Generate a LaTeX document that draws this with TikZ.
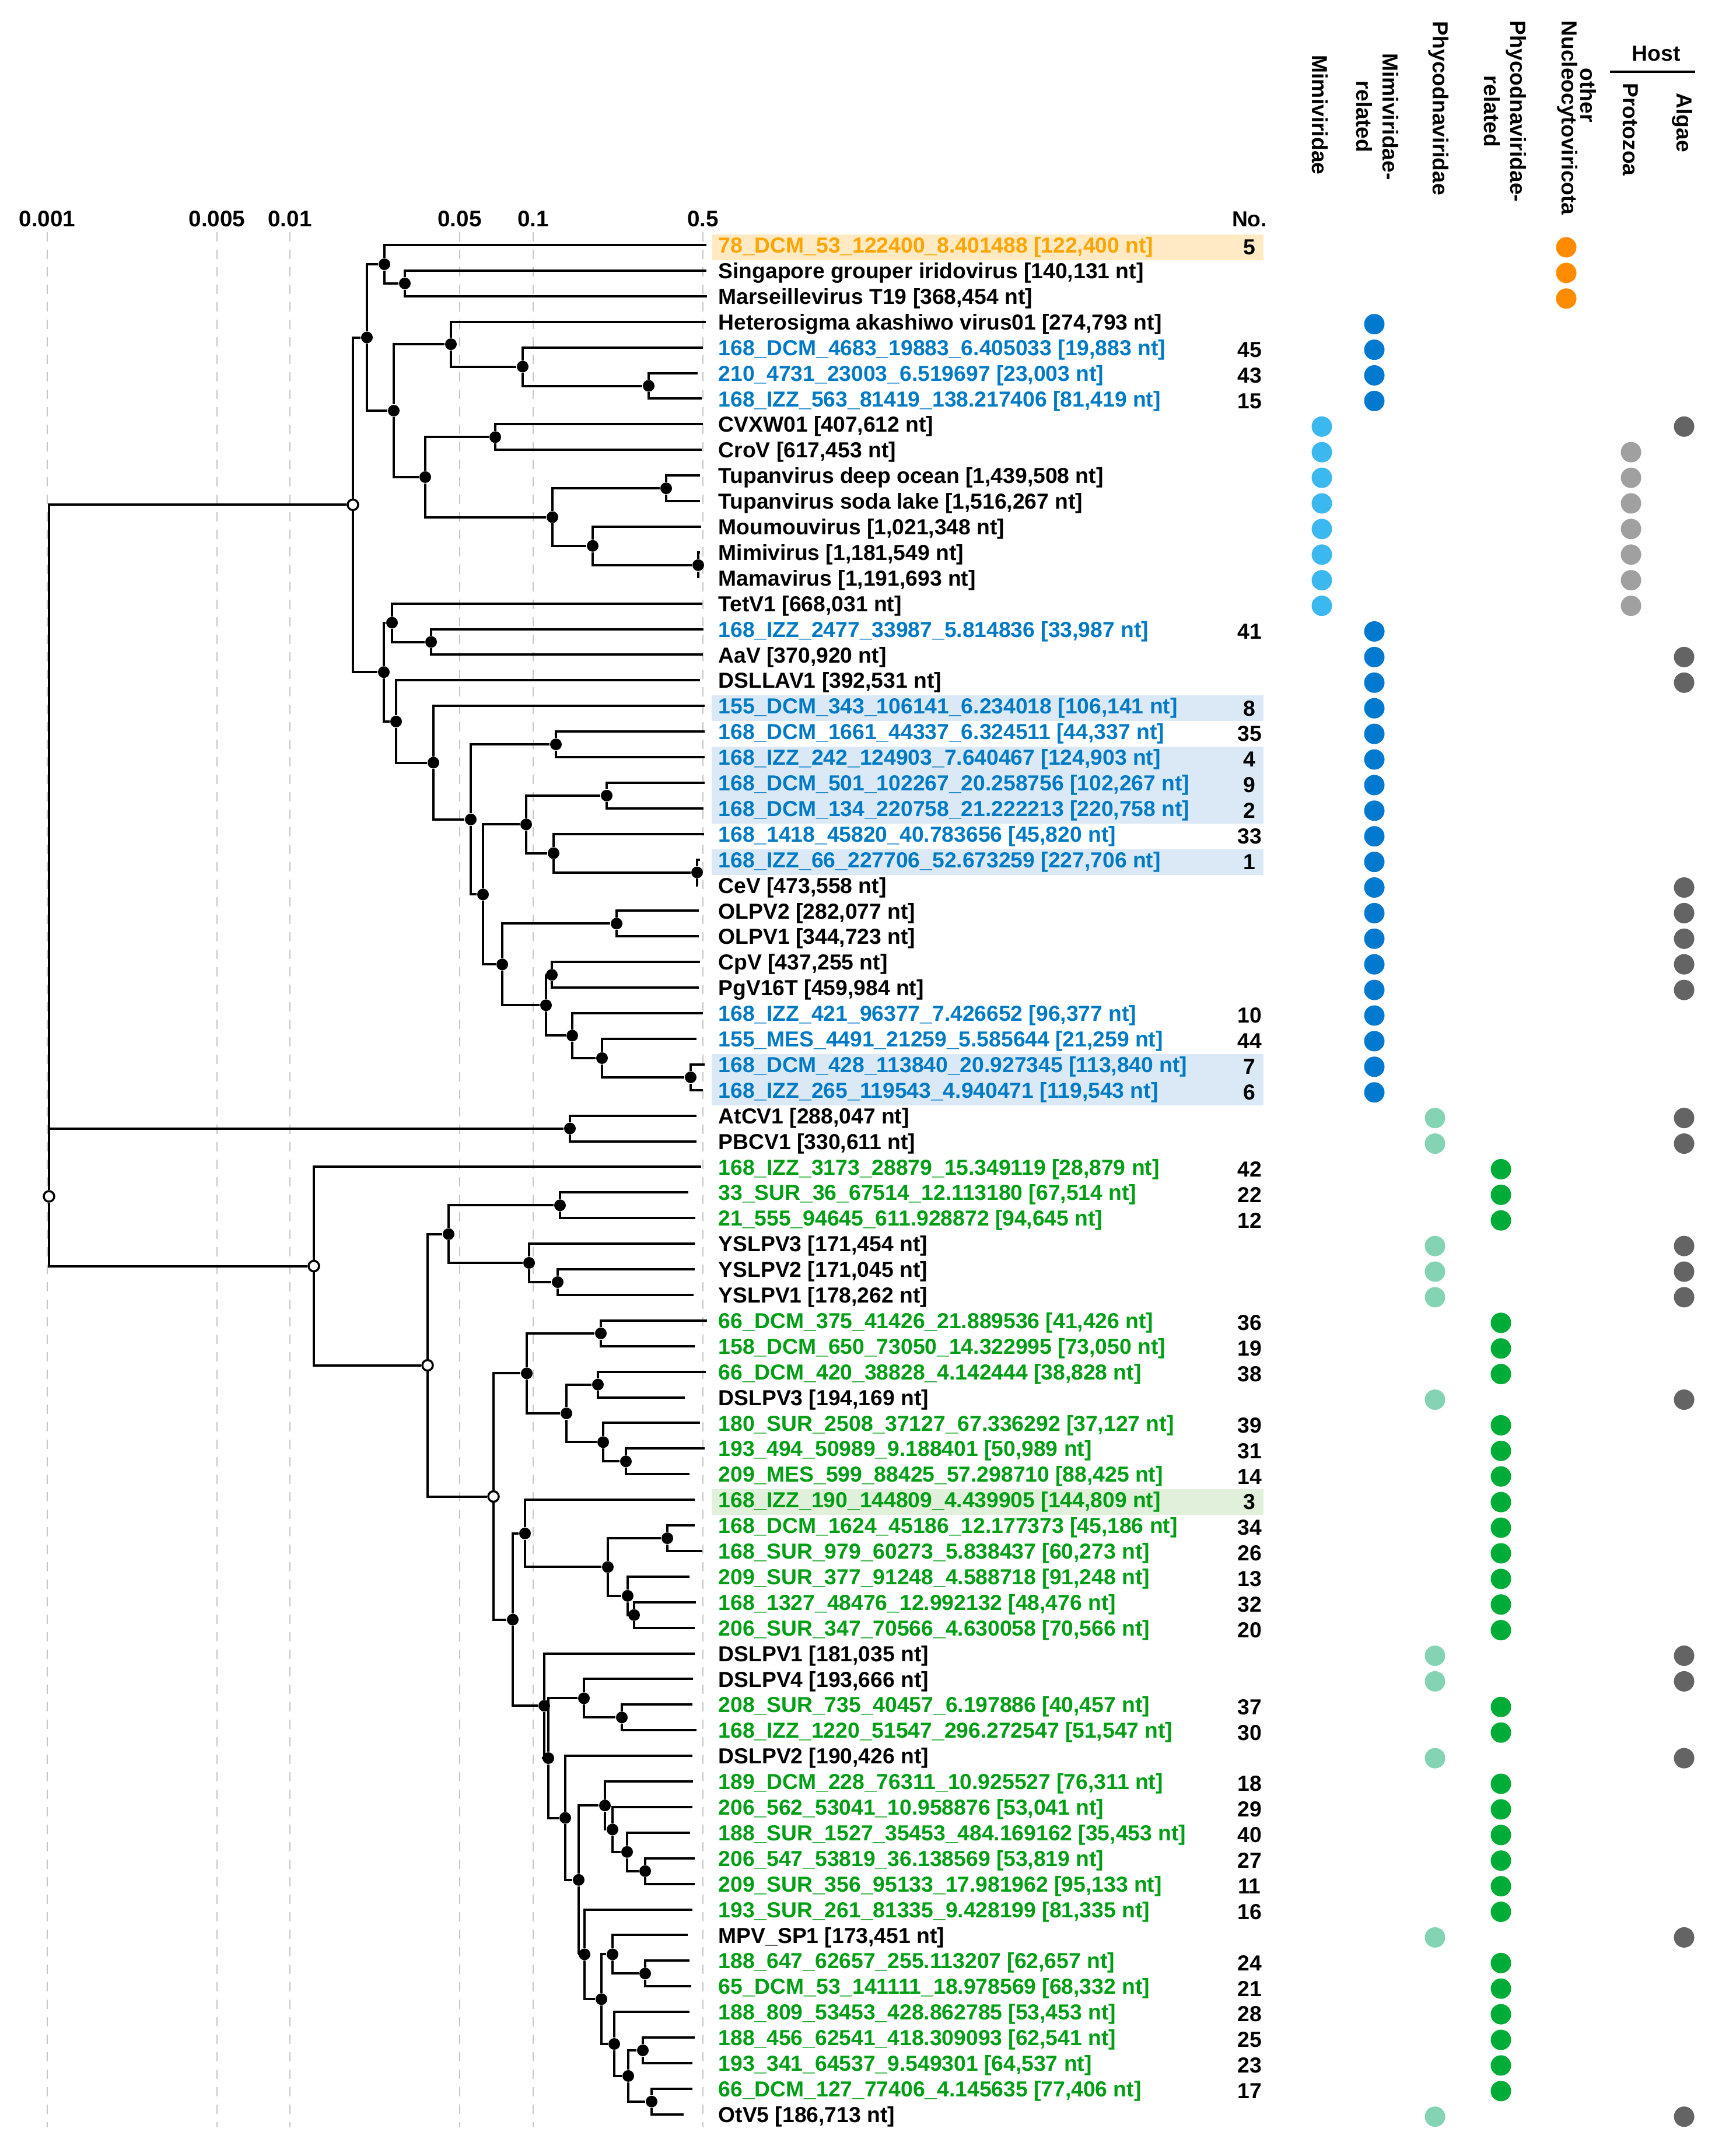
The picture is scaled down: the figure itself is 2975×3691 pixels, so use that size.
\documentclass[tikz,border=0pt]{standalone}
\usepackage{fontspec}
\setmainfont{Liberation Sans}
\usepackage{xcolor}
\definecolor{orangetext}{RGB}{250, 165, 0}
\definecolor{orangebox}{RGB}{255, 234, 196}
\definecolor{bluetext}{RGB}{0, 122, 196}
\definecolor{bluebox}{RGB}{218, 233, 245}
\definecolor{greentext}{RGB}{0, 158, 20}
\definecolor{greenbox}{RGB}{225, 240, 219}
\definecolor{mimidot}{RGB}{60, 184, 240}
\definecolor{mimireldot}{RGB}{0, 121, 206}
\definecolor{phycodot}{RGB}{132, 212, 180}
\definecolor{phycoreldot}{RGB}{0, 172, 56}
\definecolor{otherdot}{RGB}{255, 140, 0}
\definecolor{protodot}{RGB}{160, 160, 160}
\definecolor{algaedot}{RGB}{100, 100, 100}
\usepackage{tikz}

% one tip of the tree: index, tip x, text colour, label
\newcommand{\tipleaf}[4]{%
    \coordinate (l#1) at (#2,{420+(#1-1)*43.9});
    \node[tiplabel, text=#3] (t#1) at (1231,{424+(#1-1)*43.9}) {#4};
}

\begin{document}
\begin{tikzpicture}[x=0.1mm, y=-0.1mm, every node/.style={font=\fontsize{10.6}{12.7}\selectfont\bfseries},
    branch/.style={line width=0.4mm, line join=miter},
    bnode/.style={circle, fill=black, inner sep=0pt, minimum size=2mm},
    onode/.style={circle, draw=black, fill=white, line width=0.35mm, inner sep=0pt, minimum size=1.8mm},
    tiplabel/.style={anchor=west, inner sep=0pt},
    nolabel/.style={inner sep=0pt},
    hostdot/.style={circle, inner sep=0pt, minimum size=3.5mm},
    colhead/.style={rotate=-90, align=center, inner sep=0pt},
    scaleline/.style={gray!45, line width=0.25mm, dash pattern=on 1.6mm off 1.4mm}]
    \useasboundingbox (0,0) rectangle (2975,3691);

    % Highlighted contigs
    \fill[orangebox] (1220,402) rectangle (2166,446);
    \foreach \i in {19,21,22,23,25,33,34}
        \fill[bluebox] (1220,{402+(\i-1)*43.9}) rectangle (2166,{446+(\i-1)*43.9});
    \fill[greenbox] (1220,{402+49*43.9}) rectangle (2166,{446+49*43.9});

    % Log scale
    \foreach \v/\x in {0.001/81, 0.005/372, 0.01/497, 0.05/788, 0.1/914, 0.5/1205} {
        \node[nolabel, font=\fontsize{11}{13}\selectfont\bfseries] (tick\x) at (\x,375) {\v};
        \draw[scaleline] (\x,398) -- (\x,3647);
    }

    % Column headers
    \node[nolabel] (nohead) at (2142,376) {No.};
    \node[colhead] (hmimi) at (2263,197) {Mimiviridae};
    \node[colhead] (hmimirel) at (2361,200) {Mimiviridae-\\related};
    \node[colhead] (hphyco) at (2466,186) {Phycodnaviridae};
    \node[colhead] (hphycorel) at (2580,191) {Phycodnaviridae-\\related};
    \node[colhead] (hother) at (2723,163) {other};
    \node[colhead] (hnucleo) at (2687,202) {Nucleocytoviricota};
    \node[nolabel] (hhost) at (2839,92) {Host};
    \coordinate (hostl) at (2760,123);
    \coordinate (hostr) at (2906,123);
    \draw[line width=0.4mm] (hostl) -- (hostr);
    \node[colhead] (hproto) at (2795,222) {Protozoa};
    \node[colhead] (halgae) at (2884,210) {Algae};

    % Tips
    \tipleaf{1}{1211}{orangetext}{78\_DCM\_53\_122400\_8.401488 [122,400 nt]}
    \tipleaf{2}{1211}{black}{Singapore grouper iridovirus [140,131 nt]}
    \tipleaf{3}{1212}{black}{Marseillevirus T19 [368,454 nt]}
    \tipleaf{4}{1210}{black}{Heterosigma akashiwo virus01 [274,793 nt]}
    \tipleaf{5}{1205}{bluetext}{168\_DCM\_4683\_19883\_6.405033 [19,883 nt]}
    \tipleaf{6}{1196}{bluetext}{210\_4731\_23003\_6.519697 [23,003 nt]}
    \tipleaf{7}{1203}{bluetext}{168\_IZZ\_563\_81419\_138.217406 [81,419 nt]}
    \tipleaf{8}{1205}{black}{CVXW01 [407,612 nt]}
    \tipleaf{9}{1203}{black}{CroV [617,453 nt]}
    \tipleaf{10}{1200}{black}{Tupanvirus deep ocean [1,439,508 nt]}
    \tipleaf{11}{1200}{black}{Tupanvirus soda lake [1,516,267 nt]}
    \tipleaf{12}{1202}{black}{Moumouvirus [1,021,348 nt]}
    \tipleaf{13}{1200}{black}{Mimivirus [1,181,549 nt]}
    \tipleaf{14}{1197}{black}{Mamavirus [1,191,693 nt]}
    \tipleaf{15}{1204}{black}{TetV1 [668,031 nt]}
    \tipleaf{16}{1206}{bluetext}{168\_IZZ\_2477\_33987\_5.814836 [33,987 nt]}
    \tipleaf{17}{1205}{black}{AaV [370,920 nt]}
    \tipleaf{18}{1200}{black}{DSLLAV1 [392,531 nt]}
    \tipleaf{19}{1208}{bluetext}{155\_DCM\_343\_106141\_6.234018 [106,141 nt]}
    \tipleaf{20}{1208}{bluetext}{168\_DCM\_1661\_44337\_6.324511 [44,337 nt]}
    \tipleaf{21}{1208}{bluetext}{168\_IZZ\_242\_124903\_7.640467 [124,903 nt]}
    \tipleaf{22}{1208}{bluetext}{168\_DCM\_501\_102267\_20.258756 [102,267 nt]}
    \tipleaf{23}{1206}{bluetext}{168\_DCM\_134\_220758\_21.222213 [220,758 nt]}
    \tipleaf{24}{1207}{bluetext}{168\_1418\_45820\_40.783656 [45,820 nt]}
    \tipleaf{25}{1200}{bluetext}{168\_IZZ\_66\_227706\_52.673259 [227,706 nt]}
    \tipleaf{26}{1196}{black}{CeV [473,558 nt]}
    \tipleaf{27}{1198}{black}{OLPV2 [282,077 nt]}
    \tipleaf{28}{1198}{black}{OLPV1 [344,723 nt]}
    \tipleaf{29}{1200}{black}{CpV [437,255 nt]}
    \tipleaf{30}{1198}{black}{PgV16T [459,984 nt]}
    \tipleaf{31}{1205}{bluetext}{168\_IZZ\_421\_96377\_7.426652 [96,377 nt]}
    \tipleaf{32}{1194}{bluetext}{155\_MES\_4491\_21259\_5.585644 [21,259 nt]}
    \tipleaf{33}{1208}{bluetext}{168\_DCM\_428\_113840\_20.927345 [113,840 nt]}
    \tipleaf{34}{1205}{bluetext}{168\_IZZ\_265\_119543\_4.940471 [119,543 nt]}
    \tipleaf{35}{1194}{black}{AtCV1 [288,047 nt]}
    \tipleaf{36}{1194}{black}{PBCV1 [330,611 nt]}
    \tipleaf{37}{1202}{greentext}{168\_IZZ\_3173\_28879\_15.349119 [28,879 nt]}
    \tipleaf{38}{1180}{greentext}{33\_SUR\_36\_67514\_12.113180 [67,514 nt]}
    \tipleaf{39}{1192}{greentext}{21\_555\_94645\_611.928872 [94,645 nt]}
    \tipleaf{40}{1191}{black}{YSLPV3 [171,454 nt]}
    \tipleaf{41}{1191}{black}{YSLPV2 [171,045 nt]}
    \tipleaf{42}{1189}{black}{YSLPV1 [178,262 nt]}
    \tipleaf{43}{1212}{greentext}{66\_DCM\_375\_41426\_21.889536 [41,426 nt]}
    \tipleaf{44}{1191}{greentext}{158\_DCM\_650\_73050\_14.322995 [73,050 nt]}
    \tipleaf{45}{1210}{greentext}{66\_DCM\_420\_38828\_4.142444 [38,828 nt]}
    \tipleaf{46}{1174}{black}{DSLPV3 [194,169 nt]}
    \tipleaf{47}{1200}{greentext}{180\_SUR\_2508\_37127\_67.336292 [37,127 nt]}
    \tipleaf{48}{1208}{greentext}{193\_494\_50989\_9.188401 [50,989 nt]}
    \tipleaf{49}{1182}{greentext}{209\_MES\_599\_88425\_57.298710 [88,425 nt]}
    \tipleaf{50}{1191}{greentext}{168\_IZZ\_190\_144809\_4.439905 [144,809 nt]}
    \tipleaf{51}{1191}{greentext}{168\_DCM\_1624\_45186\_12.177373 [45,186 nt]}
    \tipleaf{52}{1204}{greentext}{168\_SUR\_979\_60273\_5.838437 [60,273 nt]}
    \tipleaf{53}{1182}{greentext}{209\_SUR\_377\_91248\_4.588718 [91,248 nt]}
    \tipleaf{54}{1193}{greentext}{168\_1327\_48476\_12.992132 [48,476 nt]}
    \tipleaf{55}{1191}{greentext}{206\_SUR\_347\_70566\_4.630058 [70,566 nt]}
    \tipleaf{56}{1191}{black}{DSLPV1 [181,035 nt]}
    \tipleaf{57}{1188}{black}{DSLPV4 [193,666 nt]}
    \tipleaf{58}{1187}{greentext}{208\_SUR\_735\_40457\_6.197886 [40,457 nt]}
    \tipleaf{59}{1194}{greentext}{168\_IZZ\_1220\_51547\_296.272547 [51,547 nt]}
    \tipleaf{60}{1187}{black}{DSLPV2 [190,426 nt]}
    \tipleaf{61}{1188}{greentext}{189\_DCM\_228\_76311\_10.925527 [76,311 nt]}
    \tipleaf{62}{1187}{greentext}{206\_562\_53041\_10.958876 [53,041 nt]}
    \tipleaf{63}{1183}{greentext}{188\_SUR\_1527\_35453\_484.169162 [35,453 nt]}
    \tipleaf{64}{1191}{greentext}{206\_547\_53819\_36.138569 [53,819 nt]}
    \tipleaf{65}{1191}{greentext}{209\_SUR\_356\_95133\_17.981962 [95,133 nt]}
    \tipleaf{66}{1187}{greentext}{193\_SUR\_261\_81335\_9.428199 [81,335 nt]}
    \tipleaf{67}{1179}{black}{MPV\_SP1 [173,451 nt]}
    \tipleaf{68}{1182}{greentext}{188\_647\_62657\_255.113207 [62,657 nt]}
    \tipleaf{69}{1185}{greentext}{65\_DCM\_53\_141111\_18.978569 [68,332 nt]}
    \tipleaf{70}{1182}{greentext}{188\_809\_53453\_428.862785 [53,453 nt]}
    \tipleaf{71}{1191}{greentext}{188\_456\_62541\_418.309093 [62,541 nt]}
    \tipleaf{72}{1187}{greentext}{193\_341\_64537\_9.549301 [64,537 nt]}
    \tipleaf{73}{1187}{greentext}{66\_DCM\_127\_77406\_4.145635 [77,406 nt]}
    \tipleaf{74}{1172}{black}{OtV5 [186,713 nt]}

    % Inner nodes: upper clade
    \node[onode] (root) at (84,2051) {};
    \node[onode] (nO) at (605,865.4) {};
    \node[bnode] (nC) at (629,578.5) {};
    \node[bnode] (nA) at (659,453.0) {};
    \node[bnode] (nB) at (694,485.9) {};
    \node[bnode] (nD) at (675,704.0) {};
    \node[bnode] (nE) at (773,590.1) {};
    \node[bnode] (nG) at (896,628.5) {};
    \node[bnode] (nH) at (1112,661.5) {};
    \node[bnode] (nF) at (729,817.9) {};
    \node[bnode] (nI) at (849,749.3) {};
    \node[bnode] (nJ) at (947,886.5) {};
    \node[bnode] (nK) at (1142,837.1) {};
    \node[bnode] (nL) at (1016,935.8) {};
    \node[bnode] (nM) at (1197,968.8) {};
    \node[bnode] (nP) at (658,1152.2) {};
    \node[bnode] (nQ) at (672,1067.5) {};
    \node[bnode] (nR) at (739,1100.5) {};
    \node[bnode] (nS) at (679,1236.9) {};
    \node[bnode] (nT) at (743,1307.5) {};
    \node[bnode] (nU) at (807,1404.8) {};
    \node[bnode] (nV) at (953,1276.1) {};
    \node[bnode] (nW) at (828,1533.4) {};
    \node[bnode] (nX) at (902,1413.3) {};
    \node[bnode] (nX1) at (1040,1363.9) {};
    \node[bnode] (nX2) at (949,1462.6) {};
    \node[bnode] (nX3) at (1195,1495.6) {};
    \node[bnode] (nY) at (861,1653.4) {};
    \node[bnode] (nY1) at (1057,1583.4) {};
    \node[bnode] (nY2) at (936,1723.3) {};
    \node[bnode] (nY3) at (946,1671.2) {};
    \node[bnode] (nY4) at (981,1775.4) {};
    \node[bnode] (nY5) at (1032,1813.9) {};
    \node[bnode] (nY6) at (1184,1846.8) {};
    \node[bnode] (nZ) at (977,1934.6) {};

    % Inner nodes: lower clade
    \node[onode] (nP0) at (538,2170.5) {};
    \node[onode] (nAE) at (733,2340.6) {};
    \node[bnode] (nAB) at (769,2115.7) {};
    \node[bnode] (nAA) at (960,2066.3) {};
    \node[bnode] (nAC) at (907,2165.0) {};
    \node[bnode] (nAD) at (956,2198.0) {};
    \node[onode] (nAF) at (846,2565.5) {};
    \node[bnode] (nAG) at (903,2354.4) {};
    \node[bnode] (nAH) at (1030,2285.8) {};
    \node[bnode] (nAI) at (971,2423.0) {};
    \node[bnode] (nAK) at (1025,2373.6) {};
    \node[bnode] (nAL) at (1034,2472.3) {};
    \node[bnode] (nAM) at (1073,2505.3) {};
    \node[bnode] (nAJ) at (879,2776.6) {};
    \node[bnode] (nAN) at (900,2628.8) {};
    \node[bnode] (nAP) at (1042,2686.4) {};
    \node[bnode] (nAQ) at (1144,2637.0) {};
    \node[bnode] (nAR) at (1076,2735.8) {};
    \node[bnode] (nAS) at (1087,2768.7) {};
    \node[bnode] (nAO) at (933,2924.3) {};
    \node[bnode] (nAT) at (940,3014.0) {};
    \node[bnode] (nAU) at (1001,2911.4) {};
    \node[bnode] (nAV) at (1066,2944.3) {};
    \node[bnode] (nAW) at (969,3116.5) {};
    \node[bnode] (nAX) at (992,3222.8) {};
    \node[bnode] (nAY) at (1037,3095.2) {};
    \node[bnode] (nBA) at (1050,3136.4) {};
    \node[bnode] (nBB) at (1075,3174.8) {};
    \node[bnode] (nBC) at (1106,3207.7) {};
    \node[bnode] (nAZ) at (1002,3350.4) {};
    \node[bnode] (nBD) at (1031,3427.2) {};
    \node[bnode] (nBE) at (1050,3350.4) {};
    \node[bnode] (nBG) at (1106,3383.3) {};
    \node[bnode] (nBF) at (1053,3504.0) {};
    \node[bnode] (nBH) at (1077,3558.9) {};
    \node[bnode] (nBI) at (1102,3515.0) {};
    \node[bnode] (nBJ) at (1117,3602.8) {};

    % Branches
    \foreach \p/\c in {root/nO, root/nZ, root/nP0,
        nO/nC, nO/nP, nC/nA, nC/nD, nA/l1, nA/nB, nB/l2, nB/l3,
        nD/nE, nD/nF, nE/l4, nE/nG, nG/l5, nG/nH, nH/l6, nH/l7,
        nF/nI, nF/nJ, nI/l8, nI/l9, nJ/nK, nJ/nL, nK/l10, nK/l11, nL/l12, nL/nM, nM/l13, nM/l14,
        nP/nQ, nP/nS, nQ/l15, nQ/nR, nR/l16, nR/l17,
        nS/l18, nS/nT, nT/l19, nT/nU, nU/nV, nU/nW, nV/l20, nV/l21,
        nW/nX, nW/nY, nX/nX1, nX/nX2, nX1/l22, nX1/l23, nX2/l24, nX2/nX3, nX3/l25, nX3/l26,
        nY/nY1, nY/nY2, nY1/l27, nY1/l28, nY2/nY3, nY2/nY4, nY3/l29, nY3/l30,
        nY4/l31, nY4/nY5, nY5/l32, nY5/nY6, nY6/l33, nY6/l34,
        nZ/l35, nZ/l36}
        \draw[branch] (\p) |- (\c);
    \foreach \p/\c in {nP0/l37, nP0/nAE, nAE/nAB, nAE/nAF,
        nAB/nAA, nAB/nAC, nAA/l38, nAA/l39, nAC/l40, nAC/nAD, nAD/l41, nAD/l42,
        nAF/nAG, nAF/nAJ, nAG/nAH, nAG/nAI, nAH/l43, nAH/l44, nAI/nAK, nAI/nAL,
        nAK/l45, nAK/l46, nAL/l47, nAL/nAM, nAM/l48, nAM/l49,
        nAJ/nAN, nAJ/nAO, nAN/l50, nAN/nAP, nAP/nAQ, nAP/nAR, nAQ/l51, nAQ/l52,
        nAR/l53, nAR/nAS, nAS/l54, nAS/l55,
        nAO/l56, nAO/nAT, nAT/nAU, nAT/nAW, nAU/l57, nAU/nAV, nAV/l58, nAV/l59,
        nAW/l60, nAW/nAX, nAX/nAY, nAX/nAZ, nAY/l61, nAY/nBA, nBA/l62, nBA/nBB,
        nBB/l63, nBB/nBC, nBC/l64, nBC/l65,
        nAZ/l66, nAZ/nBD, nBD/nBE, nBD/nBF, nBE/l67, nBE/nBG, nBG/l68, nBG/l69,
        nBF/l70, nBF/nBH, nBH/nBI, nBH/nBJ, nBI/l71, nBI/l72, nBJ/l73, nBJ/l74}
        \draw[branch] (\p) |- (\c);

    % No. column
    \foreach \i/\n in {1/5, 5/45, 6/43, 7/15, 16/41, 19/8, 20/35, 21/4, 22/9, 23/2, 24/33, 25/1,
        31/10, 32/44, 33/7, 34/6, 37/42, 38/22, 39/12, 43/36, 44/19, 45/38, 47/39, 48/31, 49/14,
        50/3, 51/34, 52/26, 53/13, 54/32, 55/20, 58/37, 59/30, 61/18, 62/29, 63/40, 64/27,
        65/11, 66/16, 68/24, 69/21, 70/28, 71/25, 72/23, 73/17}
        \node[nolabel] (no\i) at (2142,{424+(\i-1)*43.9}) {\n};

    % Taxonomy and host marks
    \foreach \i in {8,...,15}
        \node[hostdot, fill=mimidot] (mi\i) at (2266,{424+(\i-1)*43.9}) {};
    \foreach \i in {4,5,6,7,16,17,...,34}
        \node[hostdot, fill=mimireldot] (mr\i) at (2356,{424+(\i-1)*43.9}) {};
    \foreach \i in {35,36,40,41,42,46,56,57,60,67,74}
        \node[hostdot, fill=phycodot] (ph\i) at (2460,{424+(\i-1)*43.9}) {};
    \foreach \i in {37,38,39,43,44,45,47,48,...,55,58,59,61,62,...,66,68,69,...,73}
        \node[hostdot, fill=phycoreldot] (pr\i) at (2573,{424+(\i-1)*43.9}) {};
    \foreach \i in {1,2,3}
        \node[hostdot, fill=otherdot] (ot\i) at (2685,{424+(\i-1)*43.9}) {};
    \foreach \i in {9,...,15}
        \node[hostdot, fill=protodot] (pz\i) at (2796,{424+(\i-1)*43.9}) {};
    \foreach \i in {8,17,18,26,27,28,29,30,35,36,40,41,42,46,56,57,60,67,74}
        \node[hostdot, fill=algaedot] (al\i) at (2887,{424+(\i-1)*43.9}) {};
\end{tikzpicture}
\end{document}
